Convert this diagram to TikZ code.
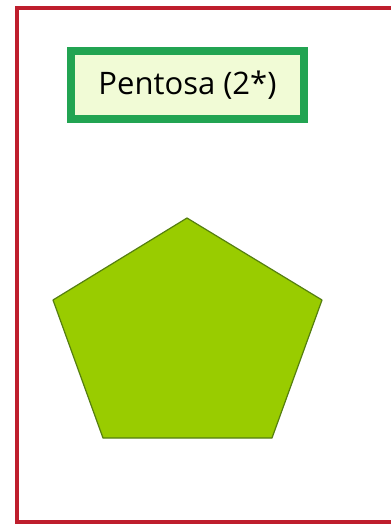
\documentclass[tikz,border=0pt]{standalone}
\usepackage{fontspec}
\setmainfont{Open Sans}
\usetikzlibrary{positioning}

\definecolor{framered}{HTML}{BE1E2D}
\definecolor{boxgreen}{HTML}{22A452}
\definecolor{boxfill}{HTML}{F1FBD6}
\definecolor{pentfill}{HTML}{99CC00}
\definecolor{pentline}{HTML}{557F10}

\begin{document}
\begin{tikzpicture}[
    x=1pt, y=-1pt,
    frame/.style={line width=4.5pt, framered},
    titlebox/.style={draw=boxgreen, line width=8pt, fill=boxfill,
        minimum width=233pt, minimum height=68pt, inner sep=0pt,
        font=\fontsize{31}{34}\selectfont},
    pentagon/.style={fill=pentfill, draw=pentline, line width=1.2pt, line join=round}
]

% ---------- Canvas ----------
\useasboundingbox (0,0) rectangle (391,528);
\fill[white] (0,0) rectangle (391,528);

% ---------- Outer frame ----------
\draw[frame] (17,8) rectangle (400,522);

% ---------- Title ----------
\node[titlebox] (title) at (187.5,85) {Pentosa (2*)};

% ---------- Pentagon ----------
\coordinate (top) at (187,218);
\coordinate (right) at (322,300);
\coordinate (botright) at (272,438);
\coordinate (botleft) at (103,438);
\coordinate (left) at (53,300);

\draw[pentagon] (top) -- (right) -- (botright) -- (botleft) -- (left) -- cycle;

\end{tikzpicture}
\end{document}
